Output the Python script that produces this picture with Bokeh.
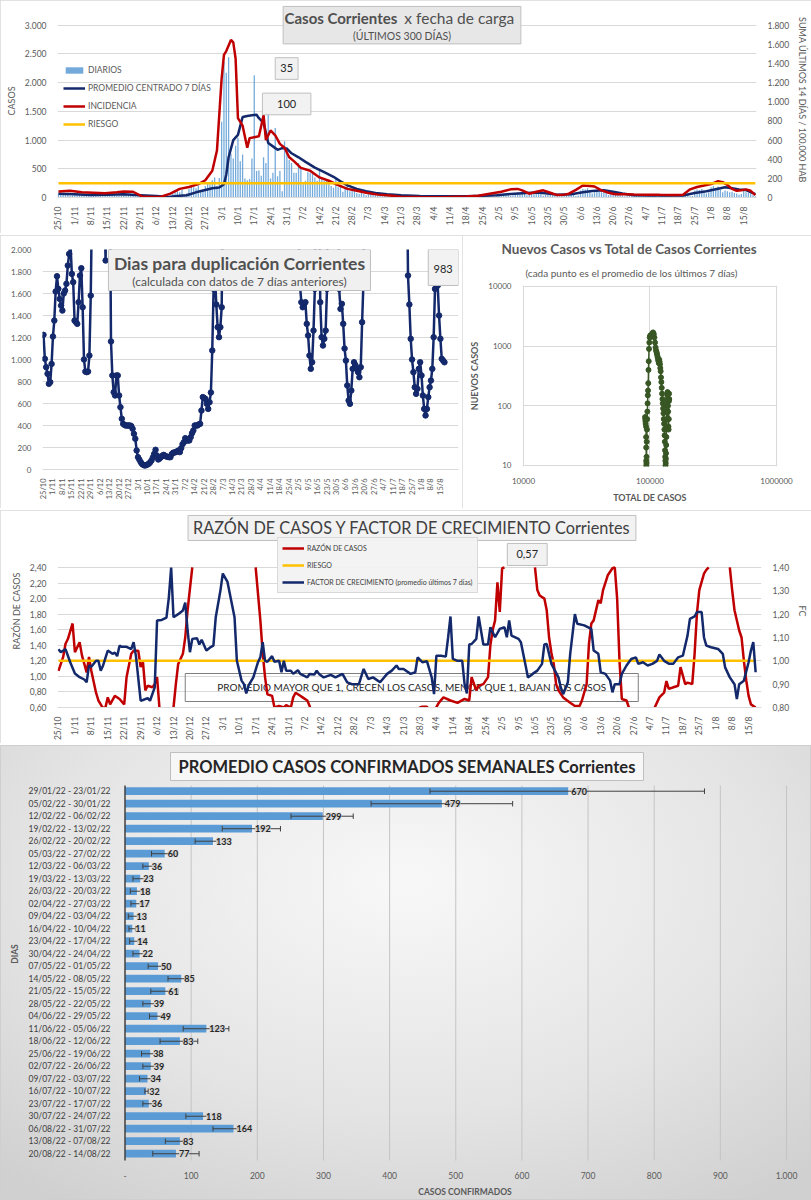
import math
import numpy as np
from bokeh.plotting import figure
from bokeh.models import (Range1d, LinearAxis, FixedTicker, Legend, LegendItem,
                          ColumnDataSource, LabelSet, Title, NumeralTickFormatter)
from bokeh.layouts import column, row
from bokeh.embed import file_html
from bokeh.resources import INLINE
from bokeh.core.properties import value

NAN = float("nan")
FONT = "Lato"
NAVY = "#13296b"
RED = "#c00000"
GOLD = "#ffc000"
BLUE = "#5b9bd5"
GREEN = "#375623"
GRID = "#d9d9d9"
TXT = "#595959"

# ------------------------------------------------------------------ data
week_days = [0, 7, 14, 21, 28, 35, 42, 49, 56, 63, 70, 77, 84, 91, 98, 105, 112, 119, 126, 133,
             140, 147, 154, 161, 168, 175, 182, 189, 196, 203, 210, 217, 224, 231, 238, 245, 252,
             259, 266, 273, 280, 287, 294]
week_labels = ["25/10", "1/11", "8/11", "15/11", "22/11", "29/11", "6/12", "13/12", "20/12", "27/12",
               "3/1", "10/1", "17/1", "24/1", "31/1", "7/2", "14/2", "21/2", "28/2", "7/3", "14/3",
               "21/3", "28/3", "4/4", "11/4", "18/4", "25/4", "2/5", "9/5", "16/5", "23/5", "30/5",
               "6/6", "13/6", "20/6", "27/6", "4/7", "11/7", "18/7", "25/7", "1/8", "8/8", "15/8"]

# daily cases (bars)
diarios = [70, 85, 60, 75, 55, 30, 40,
           65, 55, 70, 50, 45, 25, 35,
           55, 60, 45, 50, 40, 20, 30,
           50, 45, 55, 60, 40, 25, 30,
           55, 60, 50, 65, 45, 20, 35,
           40, 50, 45, 40, 35, 15, 20,
           30, 25, 35, 30, 20, 10, 15,
           60, 100, 120, 90, 130, 50, 70,
           150, 200, 180, 160, 210, 120, 140,
           200, 250, 230, 300, 350, 200, 340,
           1320, 2360, 2170, 2440, 760, 680, 900,
           1040, 630, 750, 330, 300, 320, 680,
           2130, 460, 470, 380, 700, 600, 1460,
           330, 430, 1210, 370, 460, 110, 980,
           880, 655, 600, 430, 430, 600, 510,
           230, 290, 440, 430, 430, 350, 290,
           460, 345, 290, 300, 250, 200, 170,
           350, 180, 190, 100, 150, 200, 110,
           170, 150, 80, 60, 100, 60, 40,
           80, 60, 50, 40, 30, 25, 20,
           35, 30, 20, 25, 20, 10, 15,
           20, 15, 12, 18, 10, 8, 10,
           15, 12, 18, 14, 10, 6, 8,
           12, 14, 10, 15, 9, 5, 8,
           15, 12, 10, 14, 8, 6, 9,
           18, 20, 15, 22, 14, 10, 12,
           25, 30, 28, 35, 22, 15, 20,
           40, 55, 50, 60, 45, 25, 35,
           70, 90, 80, 110, 60, 40, 55,
           60, 80, 75, 95, 55, 30, 45,
           55, 60, 45, 65, 40, 20, 30,
           50, 60, 55, 65, 45, 25, 35,
           120, 150, 140, 160, 110, 70, 90,
           130, 100, 90, 110, 80, 45, 60,
           60, 55, 45, 50, 35, 20, 30,
           45, 40, 35, 45, 30, 20, 25,
           40, 35, 30, 45, 30, 15, 25,
           35, 30, 40, 35, 25, 15, 20,
           40, 35, 45, 40, 30, 20, 25,
           120, 140, 130, 150, 110, 70, 90,
           180, 200, 170, 190, 140, 90, 120,
           110, 90, 100, 80, 70, 50, 60,
           130, 90, 80, 70, 40, 20]

# centred 7-day average (left axis)
avg_days = [0, 7, 14, 21, 28, 35, 42, 47, 51, 55, 59, 63, 66, 69, 71, 72, 73, 75, 77, 79,
            81, 83, 85, 86, 88, 90, 92, 94, 96, 98, 100, 103, 106, 110, 114, 118, 121, 124, 128, 132,
            136, 141, 147, 155, 165, 175, 182, 188, 194, 199, 205, 210, 214, 220, 225, 229, 234, 238, 242, 247,
            255, 262, 268, 273, 278, 282, 286, 289, 292, 295, 297, 299]
avg_vals = [65, 55, 45, 50, 55, 40, 25, 10, 25, 40, 90, 130, 160, 175, 230, 400, 700, 1000, 1090, 1400,
            1420, 1430, 1440, 1380, 1300, 950, 890, 830, 860, 850, 770, 700, 620, 520, 440, 360, 280, 210, 150, 110,
            80, 55, 40, 25, 20, 22, 30, 40, 60, 75, 85, 70, 50, 55, 90, 115, 125, 100, 70, 40,
            35, 33, 35, 80, 110, 145, 180, 160, 140, 130, 95, 60]

# incidence (sum 14 days / 100.000 hab, right axis)
inc_days = [0, 5, 10, 15, 20, 25, 28, 32, 36, 40, 44, 48, 52, 56, 60, 63, 66, 68, 70, 71,
            72, 74, 75, 76, 77, 79, 81, 82, 84, 86, 88, 89, 91, 93, 95, 97, 99, 101, 104, 108,
            112, 116, 120, 124, 128, 132, 137, 142, 147, 155, 165, 175, 180, 185, 190, 194, 197, 199, 202, 205,
            208, 211, 214, 217, 219, 222, 225, 228, 230, 233, 236, 239, 243, 247, 252, 258, 264, 268, 271, 274,
            277, 280, 283, 285, 287, 289, 291, 293, 295, 297, 299]
inc_vals = [62, 70, 55, 50, 45, 55, 62, 60, 10, 5, 8, 40, 90, 110, 140, 180, 280, 490, 1240, 1490,
            1530, 1646, 1620, 1450, 830, 750, 520, 620, 630, 640, 860, 600, 700, 650, 560, 520, 420, 380, 310, 280,
            210, 175, 130, 90, 70, 50, 30, 20, 8, 5, 3, 10, 18, 40, 60, 85, 90, 75, 40, 60,
            75, 50, 25, 30, 40, 80, 125, 120, 115, 75, 50, 34, 34, 32, 30, 28, 27, 30, 85, 110,
            125, 140, 170, 160, 130, 90, 70, 75, 85, 70, 25]
riesgo_inc = 150

casos_ticks = [0, 500, 1000, 1500, 2000, 2500, 3000]
casos_labels = ["0", "500", "1.000", "1.500", "2.000", "2.500", "3.000"]
inc_ticks = [0, 200, 400, 600, 800, 1000, 1200, 1400, 1600, 1800]
inc_labels = ["0", "200", "400", "600", "800", "1.000", "1.200", "1.400", "1.600", "1.800"]

# doubling days (3000 = off the chart)
dup_days = [0, 1, 2, 3, 4, 5, 6, 7, 8, 9, 10, 11, 12, 13, 14, 15, 16, 17, 18, 19,
            20, 21, 22, 23, 24, 25, 26, 27, 28, 29, 30, 31, 32, 33, 34, 35, 36, 38, 44, 45,
            46, 47, 49, 50, 51, 52, 53, 54, 55, 56, 57, 58, 59, 60, 61, 62, 63, 64, 65, 66,
            67, 68, 69, 70, 71, 72, 73, 74, 75, 76, 77, 78, 79, 80, 81, 82, 83, 84, 85, 86,
            87, 88, 89, 90, 91, 92, 93, 94, 95, 96, 97, 98, 99, 100, 101, 102, 103, 104, 105, 106,
            107, 108, 109, 110, 111, 112, 113, 114, 115, 116, 117, 118, 119, 120, 121, 122, 123, 124, 125, 126,
            127, 128, 129, 130, 131, 132, 133, 150, 188, 189, 190, 191, 192, 193, 194, 195, 196, 197, 198, 199,
            200, 201, 202, 204, 205, 206, 207, 208, 209, 210, 211, 218, 219, 220, 221, 222, 223, 224, 225, 226,
            227, 228, 229, 230, 231, 232, 233, 234, 235, 236, 237, 238, 255, 269, 270, 271, 272, 273, 274, 275,
            276, 277, 278, 279, 280, 281, 282, 283, 284, 285, 286, 287, 288, 289, 290, 291, 292, 293, 294, 295,
            296, 297]
dup_vals = [1224, 1006, 930, 870, 779, 794, 960, 1209, 1354, 1618, 1757, 1642, 1551, 1490, 1445, 1600, 1627, 1688, 1854, 1960,
            2050, 1778, 1703, 1354, 1340, 1324, 1521, 1763, 1830, 1475, 1000, 890, 885, 890, 1036, 1581, 2500, 3000, 3000, 2400,
            1900, 3000, 3000, 1164, 855, 703, 673, 855, 855, 673, 567, 461, 415, 405, 400, 400, 400, 400, 395, 370,
            324, 279, 173, 112, 90, 67, 50, 42, 36, 40, 45, 52, 65, 82, 110, 142, 179, 127, 91, 100,
            112, 125, 133, 125, 118, 115, 112, 112, 140, 152, 155, 158, 165, 173, 158, 194, 230, 248, 285, 264,
            264, 264, 294, 330, 355, 400, 400, 400, 410, 415, 536, 658, 650, 642, 597, 551, 612, 700, 1082, 1642,
            1763, 1500, 1294, 1203, 1294, 1475, 3000, 3000, 3000, 2200, 1672, 1521, 1475, 1500, 1521, 1324, 1218, 1036, 915, 975,
            1263, 1642, 3000, 3000, 1521, 1203, 1127, 1188, 1263, 1642, 3000, 3000, 1642, 1460, 1506, 1324, 1100, 990, 764, 627,
            597, 718, 915, 975, 950, 915, 885, 839, 930, 1339, 1703, 3000, 3000, 3000, 1763, 1500, 1188, 1000, 885, 748,
            688, 733, 915, 975, 855, 673, 551, 491, 551, 658, 748, 809, 915, 1203, 1642, 1794, 1672, 1400, 1188, 1006,
            990, 975]
dup_ticks = [0, 200, 400, 600, 800, 1000, 1200, 1400, 1600, 1800, 2000]
dup_labels = ["0", "200", "400", "600", "800", "1.000", "1.200", "1.400", "1.600", "1.800", "2.000"]

# new cases vs total cases (7-day average)
sc_total = [91500, 91800, 92100, 92400, 92700, 92900, 93100, 93200, 93300, 93400,
            93500, 93700, 93900, 94200, 94500, 94900, 95300, 95700, 96100, 96500,
            96900, 97300, 97700, 98200, 98800, 99500, 100300, 101200, 102200, 103300,
            104500, 105800, 107100, 108400, 109600, 110700, 111700, 112600, 113400, 114200,
            115000, 115800, 116600, 117400, 118200, 119000, 119800, 120600, 121400, 122200,
            123000, 123800, 124600, 125400, 126200, 127000, 127800, 128500, 129200, 129900,
            130500, 131000, 131500, 131900, 132300, 132700, 133100, 133500, 133900, 134300,
            134700, 135100, 135500, 135900, 136300, 136700, 137100, 137500, 137900, 138300,
            138700, 139100, 139500, 139900, 140300, 140700, 141100, 141500, 141900]
sc_new = [65, 60, 55, 50, 58, 60, 45, 30, 20, 12,
          10, 11, 14, 25, 40, 60, 80, 110, 150, 180,
          240, 400, 560, 900, 1150, 1400, 1500, 1520, 1450, 1550,
          1650, 1700, 1600, 1400, 1150, 950, 850, 800, 750, 700,
          650, 600, 560, 520, 600, 550, 500, 430, 380, 300,
          250, 200, 160, 130, 110, 90, 75, 60, 50, 40,
          32, 25, 18, 14, 12, 10, 11, 13, 16, 22,
          30, 45, 60, 80, 100, 120, 150, 170, 160, 130,
          100, 80, 60, 45, 40, 60, 120, 160, 130]
sc_xticks = [10000, 100000, 1000000]
sc_yticks = [10, 100, 1000, 10000]

# razón de casos (left axis) and factor de crecimiento (right axis)
raz_days = [0, 2, 3, 4, 6, 7, 9, 10, 12, 13, 14, 16, 17, 19, 20, 21, 22, 24, 26, 28,
            29, 31, 32, 34, 35, 36, 37, 38, 40, 41, 42, 43, 44, 48, 49, 50, 51, 53, 54, 55,
            57, 58, 84, 85, 86, 87, 88, 89, 91, 92, 94, 96, 97, 99, 100, 101, 103, 104, 106, 107,
            108, 150, 154, 155, 157, 158, 160, 162, 164, 167, 170, 173, 175, 176, 178, 179, 181, 183, 184, 185,
            186, 187, 188, 189, 190, 191, 203, 204, 205, 207, 208, 209, 210, 211, 212, 213, 215, 218, 220, 222,
            223, 225, 226, 227, 228, 230, 231, 232, 234, 236, 237, 238, 239, 240, 242, 243, 244, 253, 254, 256,
            258, 259, 260, 262, 264, 265, 267, 268, 270, 271, 272, 273, 275, 276, 277, 278, 286, 287, 288, 290,
            291, 292, 293, 294, 295, 297]
raz_vals = [1.07, 1.25, 1.42, 1.48, 1.68, 1.31, 1.44, 1.27, 1.05, 1.25, 1.07, 0.79, 0.69, 0.59, 0.6, 0.73, 0.64, 0.75, 0.71, 0.64,
            0.99, 1.29, 1.33, 1.33, 1.12, 1.18, 0.82, 0.88, 0.86, 0.9, 0.99, 0.6, 0.3, 0.3, 0.6, 0.9, 1.16, 1.29, 1.5, 1.85,
            2.4, NAN, 2.4, 2.06, 1.72, 1.3, 0.99, 0.77, 0.75, 0.6, 0.62, 0.6, 0.63, 0.6, 0.73, 0.79, 0.75, 0.73, 0.69, 0.62,
            0.5, 0.4, 0.6, 0.61, 0.61, 0.55, 0.55, 0.66, 0.73, 0.69, 0.66, 0.71, 0.69, 0.99, 0.82, 0.88, 0.9, 0.99, 1.4, 1.6,
            1.72, 2.21, 1.83, 2.39, 2.4, NAN, 2.4, 2.11, 2.04, 2.0, 1.85, 1.5, 1.3, 1.16, 0.9, 0.82, 0.73, 0.66, 0.62, 0.62,
            0.69, 0.9, 1.42, 1.68, 1.72, 1.98, 1.94, 2.11, 2.3, 2.39, 2.4, 2.0, 1.2, 0.71, 0.69, 0.6, 0.4, 0.4, 0.6, 0.73,
            0.79, 0.94, 0.84, 0.86, 0.88, 1.12, 0.9, 0.92, 0.9, 1.29, 1.81, 2.11, 2.32, 2.37, 2.4, NAN, 2.4, 2.11, 1.85, 1.59,
            1.5, 1.2, 0.95, 0.75, 0.64, 0.6]
fc_days = [0, 1, 3, 5, 7, 9, 11, 12, 13, 14, 16, 17, 18, 19, 21, 23, 24, 25, 26, 27,
           29, 31, 32, 33, 35, 36, 38, 39, 41, 42, 44, 46, 47, 48, 49, 51, 53, 54, 55, 56,
           57, 59, 60, 61, 63, 65, 66, 67, 69, 70, 72, 75, 76, 78, 79, 80, 81, 83, 85, 86,
           87, 88, 89, 91, 92, 94, 95, 96, 97, 99, 100, 102, 103, 106, 107, 109, 110, 111, 113, 116,
           118, 121, 123, 125, 128, 130, 132, 134, 137, 140, 142, 144, 145, 147, 150, 152, 153, 155, 157, 159,
           160, 161, 163, 165, 166, 167, 168, 170, 172, 173, 174, 175, 176, 178, 179, 181, 183, 184, 186, 188,
           190, 191, 192, 193, 196, 197, 199, 200, 202, 204, 206, 207, 208, 210, 213, 214, 215, 217, 218, 220,
           221, 224, 227, 228, 230, 231, 233, 235, 236, 237, 239, 240, 242, 244, 246, 247, 249, 251, 253, 255,
           256, 258, 260, 262, 264, 266, 268, 269, 271, 272, 274, 275, 276, 278, 281, 283, 284, 286, 288, 289,
           290, 292, 294, 295, 296, 297]
fc_vals = [1.05, 1.037, 1.05, 0.994, 0.946, 0.93, 0.92, 0.908, 0.98, 0.975, 1.0, 1.0, 0.958, 0.98, 1.044, 1.03, 1.035, 1.02, 1.065, 1.06,
           1.06, 1.05, 1.08, 1.02, 0.829, 0.832, 0.84, 0.829, 0.886, 1.173, 1.175, 1.185, 1.27, 1.40, 1.187, 1.2, 1.216, 1.25, 1.13, 1.037,
           1.094, 1.097, 1.07, 1.09, 1.044, 1.06, 1.065, 1.187, 1.302, 1.374, 1.338, 1.187, 1.0, 0.915, 0.9, 0.86, 0.895, 0.929, 0.994, 1.015,
           1.08, 1.0, 0.996, 1.02, 0.996, 1.0, 0.951, 1.0, 0.958, 0.958, 0.944, 0.96, 0.944, 0.929, 0.944, 0.941, 0.958, 0.944, 0.929, 0.94,
           0.929, 0.944, 0.908, 0.9, 0.9, 0.965, 0.922, 0.929, 0.908, 0.944, 0.958, 0.98, 0.965, 0.965, 0.944, 0.951, 1.015, 0.994, 0.998, 0.929,
           0.857, 1.022, 1.022, 1.018, 1.101, 1.19, 1.008, 1.0, 1.0, 0.9, 0.86, 1.07, 1.072, 1.094, 1.19, 1.07, 1.07, 1.144, 1.101, 1.137,
           1.144, 1.101, 1.173, 1.108, 1.094, 1.08, 0.98, 0.929, 0.944, 0.958, 0.987, 1.07, 1.072, 0.987, 0.929, 0.886, 0.857, 0.908, 1.03, 1.2,
           1.159, 1.152, 1.137, 1.044, 1.03, 0.951, 0.944, 0.915, 0.865, 0.9, 0.9, 0.944, 0.98, 1.008, 1.015, 0.987, 0.994, 0.98, 0.987, 1.0,
           1.027, 1.0, 0.988, 0.988, 1.015, 1.022, 1.109, 1.18, 1.19, 1.209, 1.209, 1.1, 1.065, 1.058, 1.051, 1.03, 0.972, 0.929, 0.9, 0.836,
           0.9, 0.915, 0.994, 1.044, 1.08, 0.951]
riesgo_raz = 1.2
raz_ticks = [0.6, 0.8, 1.0, 1.2, 1.4, 1.6, 1.8, 2.0, 2.2, 2.4]
raz_labels = ["0,60", "0,80", "1,00", "1,20", "1,40", "1,60", "1,80", "2,00", "2,20", "2,40"]
fc_ticks = [0.8, 0.9, 1.0, 1.1, 1.2, 1.3, 1.4]
fc_labels = ["0,80", "0,90", "1,00", "1,10", "1,20", "1,30", "1,40"]

# weekly averages
semanas = ["29/01/22 - 23/01/22", "05/02/22 - 30/01/22", "12/02/22 - 06/02/22", "19/02/22 - 13/02/22",
           "26/02/22 - 20/02/22", "05/03/22 - 27/02/22", "12/03/22 - 06/03/22", "19/03/22 - 13/03/22",
           "26/03/22 - 20/03/22", "02/04/22 - 27/03/22", "09/04/22 - 03/04/22", "16/04/22 - 10/04/22",
           "23/04/22 - 17/04/22", "30/04/22 - 24/04/22", "07/05/22 - 01/05/22", "14/05/22 - 08/05/22",
           "21/05/22 - 15/05/22", "28/05/22 - 22/05/22", "04/06/22 - 29/05/22", "11/06/22 - 05/06/22",
           "18/06/22 - 12/06/22", "25/06/22 - 19/06/22", "02/07/22 - 26/06/22", "09/07/22 - 03/07/22",
           "16/07/22 - 10/07/22", "23/07/22 - 17/07/22", "30/07/22 - 24/07/22", "06/08/22 - 31/07/22",
           "13/08/22 - 07/08/22", "20/08/22 - 14/08/22"]
promedio = [670, 479, 299, 192, 133, 60, 36, 23, 18, 17, 13, 11, 14, 22, 50,
            85, 61, 39, 49, 123, 83, 38, 39, 34, 32, 36, 118, 164, 83, 77]
err_lo = [461, 372, 251, 147, 106, 40, 27, 12, 8, 9, 5, 6, 7, 12, 35,
          65, 39, 27, 37, 88, 53, 25, 27, 22, 30, 27, 92, 133, 61, 42]
err_hi = [876, 586, 345, 235, 140, 78, 45, 32, 28, 28, 22, 16, 22, 32, 60,
          95, 80, 50, 60, 157, 110, 48, 50, 45, 35, 45, 125, 170, 95, 112]
semanal_ticks = [0, 100, 200, 300, 400, 500, 600, 700, 800, 900, 1000]
semanal_labels = ["-", "100", "200", "300", "400", "500", "600", "700", "800", "900", "1.000"]


# ------------------------------------------------------------------ helpers
PANEL_OUTLINE = {"outline": "1px solid #d9d9d9", "outline-offset": "-1px"}


def make_fig(width, height, **kw):
    p = figure(width=width, height=height, output_backend="svg", toolbar_location=None,
               title=None, frame_align=False, **kw)
    p.outline_line_color = None
    p.background_fill_color = "white"
    p.border_fill_color = "white"
    p.styles = dict(PANEL_OUTLINE)
    return p


def style_axis(ax, size="8.5px", color=TXT, label_size="9px", label_style="normal"):
    ax.major_label_text_font = FONT
    ax.major_label_text_font_size = size
    ax.major_label_text_color = color
    ax.axis_label_text_font = FONT
    ax.axis_label_text_font_size = label_size
    ax.axis_label_text_color = TXT
    ax.axis_label_text_font_style = label_style
    ax.major_tick_line_color = None
    ax.minor_tick_line_color = None
    ax.axis_line_color = None


def add_text(p, x, y, txt, size, style="normal", align="center", color="#404040"):
    p.text(x=[x], y=[y], text=[txt], text_font=value(FONT), text_font_size=size,
           text_font_style=style, text_align=align, text_baseline="middle", text_color=color)


def add_box(p, l, r, b, t, fill="#f2f2f2", line="#bfbfbf"):
    p.quad(left=[l], right=[r], bottom=[b], top=[t], fill_color=fill, line_color=line, line_width=1)


def date_axis(p, size="8.5px"):
    ax = p.xaxis[0]
    ax.ticker = FixedTicker(ticks=week_days)
    ax.major_label_overrides = dict(zip(week_days, week_labels))
    ax.major_label_orientation = math.pi / 2
    style_axis(ax, size=size)
    ax.axis_line_color = GRID
    ax.major_label_standoff = 3
    p.xgrid.grid_line_color = None


# ------------------------------------------------------------------ panel 1
p1 = make_fig(811, 233, x_range=Range1d(-0.42, 299.5), y_range=Range1d(0, 3360),
              min_border_left=57, min_border_right=48, min_border_top=4, min_border_bottom=33)
p1.extra_y_ranges = {"inc": Range1d(0, 2016)}
bars = p1.vbar(x=list(range(len(diarios))), top=diarios, width=0.55, fill_color=BLUE,
               fill_alpha=0.85, line_color=None)
l_avg = p1.line(avg_days, avg_vals, color=NAVY, line_width=2.5)
l_inc = p1.line(inc_days, inc_vals, color=RED, line_width=2.5, y_range_name="inc")
l_rsk = p1.line([avg_days[0], avg_days[-1]], [riesgo_inc, riesgo_inc], color=GOLD, line_width=2.5,
                y_range_name="inc")
date_axis(p1)
p1.yaxis.ticker = FixedTicker(ticks=casos_ticks)
p1.yaxis.major_label_overrides = dict(zip(casos_ticks, casos_labels))
p1.yaxis.axis_label = "CASOS"
style_axis(p1.yaxis[0])
p1.ygrid.grid_line_color = GRID
r_ax = LinearAxis(y_range_name="inc", axis_label="SUMA  ÚLTIMOS 14 DÍAS / 100.000 HAB")
r_ax.ticker = FixedTicker(ticks=inc_ticks)
r_ax.major_label_overrides = dict(zip(inc_ticks, inc_labels))
style_axis(r_ax)
p1.add_layout(r_ax, "right")

add_box(p1, 96.4, 198.4, 2674, 3326, fill="#e7e7e7")
add_text(p1, 145.4, 3120, "Casos Corrientes", "15px", style="bold", align="right", color="#505050")
add_text(p1, 148.4, 3120, "x fecha de carga", "15.5px", align="left", color="#505050")
add_text(p1, 147.4, 2811, "(ÚLTIMOS 300 DÍAS)", "10.5px", color="#505050")
add_box(p1, 93, 102.8, 2057, 2434)
add_text(p1, 97.9, 2246, "35", "11px", color="#262626")
add_box(p1, 87.5, 108.3, 1440, 1817)
add_text(p1, 97.9, 1629, "100", "11px", color="#262626")

leg1 = Legend(items=[LegendItem(label="DIARIOS", renderers=[bars]),
                     LegendItem(label="PROMEDIO CENTRADO 7 DÍAS", renderers=[l_avg]),
                     LegendItem(label="INCIDENCIA", renderers=[l_inc]),
                     LegendItem(label="RIESGO", renderers=[l_rsk])],
              location=(6, 66))
leg1.label_text_font = FONT
leg1.label_text_font_size = "8.5px"
leg1.label_text_color = TXT
leg1.background_fill_alpha = 0
leg1.border_line_color = None
leg1.glyph_width = 22
leg1.glyph_height = 8
leg1.label_height = 14
leg1.spacing = 4
leg1.padding = 2
leg1.margin = 0
leg1.label_standoff = 3
p1.add_layout(leg1)

# ------------------------------------------------------------------ panel 2a
p2a = make_fig(462, 273, x_range=Range1d(-0.74, 307.4), y_range=Range1d(0, 2000),
               min_border_left=42, min_border_right=4, min_border_top=14, min_border_bottom=39)
p2a.line(dup_days, dup_vals, color=NAVY, line_width=2.5)
p2a.scatter(dup_days, dup_vals, marker="circle", size=5.5, color=NAVY)
date_axis(p2a, size="7.5px")
p2a.yaxis.ticker = FixedTicker(ticks=dup_ticks)
p2a.yaxis.major_label_overrides = dict(zip(dup_ticks, dup_labels))
style_axis(p2a.yaxis[0], size="8px")
p2a.ygrid.grid_line_color = GRID
add_box(p2a, 48.1, 242.2, 1627, 2000, fill="#f0f0f0")
add_text(p2a, 145.2, 1873, "Dias para duplicación Corrientes", "17.5px", style="bold", color="#505050")
add_text(p2a, 145.2, 1709, "(calculada con datos de 7 días anteriores)", "12px", color="#505050")
add_box(p2a, 285, 307.4, 1673, 2000)
add_text(p2a, 296, 1827, "983", "11px", color="#262626")

# ------------------------------------------------------------------ panel 2b
p2b = make_fig(349, 273, x_axis_type="log", y_axis_type="log",
               x_range=Range1d(9820, 1018400), y_range=Range1d(9.621, 10393),
               min_border_left=60, min_border_right=34, min_border_top=50, min_border_bottom=42)
p2b.xgrid.grid_line_color = GRID
p2b.ygrid.grid_line_color = GRID
p2b.line(sc_total, sc_new, color=GREEN, line_width=1.5)
p2b.scatter(sc_total, sc_new, marker="circle", size=5, color=GREEN)
p2b.xaxis.ticker = FixedTicker(ticks=sc_xticks)
p2b.yaxis.ticker = FixedTicker(ticks=sc_yticks)
p2b.xaxis.formatter = NumeralTickFormatter(format="0")
p2b.yaxis.formatter = NumeralTickFormatter(format="0")
p2b.xaxis.axis_label = "TOTAL DE CASOS"
p2b.yaxis.axis_label = "NUEVOS CASOS"
style_axis(p2b.xaxis[0], size="8px", label_style="bold")
style_axis(p2b.yaxis[0], size="8px", label_style="bold")
p2b.add_layout(Title(text="(cada punto es el promedio de los últimos 7 días)", align="left",
                     text_font=FONT, text_font_size="10px", text_font_style="normal",
                     text_color=TXT, standoff=13, offset=3), "above")
p2b.add_layout(Title(text="Nuevos Casos vs Total de Casos Corrientes", align="left",
                     text_font=FONT, text_font_size="13.5px", text_font_style="bold",
                     text_color=TXT, standoff=3, offset=-21), "above")

# ------------------------------------------------------------------ panel 3
p3 = make_fig(811, 233, x_range=Range1d(-0.42, 299.5), y_range=Range1d(0.6, 3.081),
              min_border_left=57, min_border_right=48, min_border_top=4, min_border_bottom=36)
p3.extra_y_ranges = {"fc": Range1d(0.8, 1.627)}
add_box(p3, 54, 247, 0.677, 1.037, fill=None, line="#7f7f7f")
add_text(p3, 150.5, 0.858, "PROMEDIO MAYOR QUE 1, CRECEN LOS CASOS, MENOR QUE 1, BAJAN LOS CASOS",
         "10px", color="#262626")
l_raz = p3.line(raz_days, np.array(raz_vals), color=RED, line_width=2.5)
l_rr = p3.line([fc_days[0], fc_days[-1]], [riesgo_raz, riesgo_raz], color=GOLD, line_width=2.5)
l_fc = p3.line(fc_days, fc_vals, color=NAVY, line_width=2.5, y_range_name="fc")
date_axis(p3)
p3.yaxis.ticker = FixedTicker(ticks=raz_ticks)
p3.yaxis.major_label_overrides = dict(zip(raz_ticks, raz_labels))
p3.yaxis.axis_label = "RAZÓN DE CASOS"
style_axis(p3.yaxis[0])
p3.ygrid.grid_line_color = GRID
fc_ax = LinearAxis(y_range_name="fc", axis_label="FC")
fc_ax.ticker = FixedTicker(ticks=fc_ticks)
fc_ax.major_label_overrides = dict(zip(fc_ticks, fc_labels))
style_axis(fc_ax)
p3.add_layout(fc_ax, "right")
add_box(p3, 55.2, 246, 2.747, 3.069)
add_text(p3, 150.6, 2.908, "RAZÓN DE CASOS Y FACTOR DE CRECIMIENTO Corrientes", "16.3px", color="#404040")
add_box(p3, 191.2, 208.2, 2.426, 2.709)
add_text(p3, 199.7, 2.567, "0,57", "11px", color="#262626")
leg3 = Legend(items=[LegendItem(label="RAZÓN DE CASOS", renderers=[l_raz]),
                     LegendItem(label="RIESGO", renderers=[l_rr]),
                     LegendItem(label="FACTOR DE CRECIMIENTO (promedio últimos 7 días)", renderers=[l_fc])],
              location=(220, 114))
leg3.label_text_font = FONT
leg3.label_text_font_size = "7px"
leg3.label_text_color = "#404040"
leg3.background_fill_color = "#f2f2f2"
leg3.border_line_color = "#bfbfbf"
leg3.glyph_width = 22
leg3.glyph_height = 12
leg3.label_height = 12
leg3.spacing = 5
leg3.padding = 4
leg3.margin = 0
leg3.label_standoff = 3
p3.add_layout(leg3)

# ------------------------------------------------------------------ panel 4
p4 = make_fig(811, 455, x_range=Range1d(-2.27, 1030.2), y_range=Range1d(29.54, -3.496),
              min_border_left=123, min_border_right=5, min_border_top=2, min_border_bottom=40)
p4.background_fill_alpha = 0
p4.border_fill_alpha = 0
p4.styles = {"background": "radial-gradient(ellipse 75% 85% at 50% 30%, #f8f8f8 0%, #e4e4e4 60%, #d0d0d0 100%)",
             "outline": "1px solid #cfcfcf", "outline-offset": "-1px"}
pos = list(range(len(semanas)))
src = ColumnDataSource(dict(pos=pos, v=promedio, lo=err_lo, hi=err_hi,
                            c0=[q - 0.22 for q in pos], c1=[q + 0.22 for q in pos],
                            lbl=[str(v) for v in promedio]))
gx = semanal_ticks[1:]
p4.segment(x0=gx, y0=[-0.45] * len(gx), x1=gx, y1=[29.6] * len(gx), line_color="#c4c4c4", line_width=1)
p4.hbar(y="pos", left=0, right="v", height=0.62, fill_color=BLUE, line_color=None, source=src)
p4.segment(x0=[semanal_ticks[0]], y0=[-0.45], x1=[semanal_ticks[0]], y1=[29.6], line_color="#404040",
           line_width=1.5)
p4.segment(x0="lo", y0="pos", x1="hi", y1="pos", line_color="#404040", line_width=1, source=src)
p4.segment(x0="lo", y0="c0", x1="lo", y1="c1", line_color="#404040", line_width=1, source=src)
p4.segment(x0="hi", y0="c0", x1="hi", y1="c1", line_color="#404040", line_width=1, source=src)
p4.add_layout(LabelSet(x="v", y="pos", text="lbl", source=src, x_offset=3, text_baseline="middle",
                       text_font=value(FONT), text_font_size="9px", text_font_style="bold",
                       text_color="#262626", background_fill_color="#d4d4d4", background_fill_alpha=0.85))
p4.xgrid.grid_line_color = None
p4.ygrid.grid_line_color = None
p4.xaxis.ticker = FixedTicker(ticks=semanal_ticks)
p4.xaxis.major_label_overrides = dict(zip(semanal_ticks, semanal_labels))
p4.xaxis.axis_label = "CASOS CONFIRMADOS"
style_axis(p4.xaxis[0], size="8.5px", label_size="8.5px", label_style="bold")
p4.yaxis.ticker = FixedTicker(ticks=pos)
p4.yaxis.major_label_overrides = dict(zip(pos, semanas))
p4.yaxis.axis_label = "DIAS"
style_axis(p4.yaxis[0], size="8.5px", color="#404040", label_size="8.5px", label_style="bold")
p4.yaxis.major_label_standoff = 7
add_box(p4, 68.8, 783.8, -3.096, -0.856, fill="#f7f7f7")
add_text(p4, 426.2, -1.976, "PROMEDIO CASOS CONFIRMADOS SEMANALES Corrientes", "16.5px", style="bold",
         color="#262626")

layout = column(p1, row(p2a, p2b), p3, p4, spacing=2)
open("out.html", "w").write(file_html(layout, INLINE))
